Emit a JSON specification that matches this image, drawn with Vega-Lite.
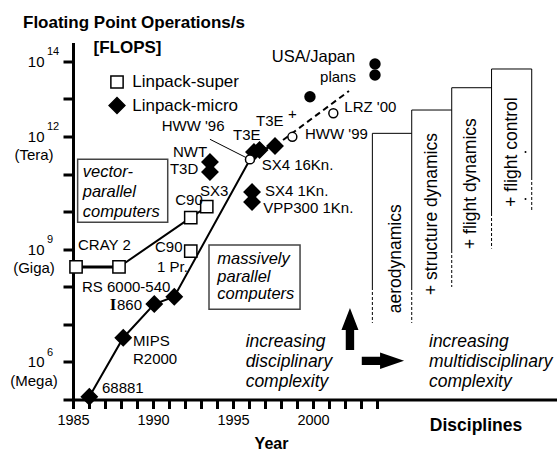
{
  "$schema": "https://vega.github.io/schema/vega-lite/v6.json",
  "width": 484,
  "height": 357,
  "autosize": "none",
  "padding": {"left": 73, "top": 42.5, "right": 0, "bottom": 50.5},
  "background": "white",
  "title": {"text": "Floating Point Operations/s", "anchor": "start", "frame": "group", "dx": -50, "offset": 6, "fontSize": 17, "fontWeight": "bold", "font": "Liberation Sans", "color": "black"},
  "config": {"view": {"stroke": null}, "font": "Liberation Sans", "text": {"color": "black", "font": "Liberation Sans"}},
  "datasets": {
    "systems": [
      {"name": "CRAY 2", "kind": "Linpack-super", "year": 1985.19, "flops": 3.36e8, "track": "super", "step": 1},
      {"name": "1988 vector", "kind": "Linpack-super", "year": 1987.875, "flops": 3.36e8, "track": "super", "step": 2},
      {"name": "C90", "kind": "Linpack-super", "year": 1992.36, "flops": 6.89e9, "track": "super", "step": 3},
      {"name": "SX3", "kind": "Linpack-super", "year": 1993.36, "flops": 1.35e10, "track": "super", "step": 4},
      {"name": "C90 1 Pr.", "kind": "Linpack-super", "year": 1992.36, "flops": 8.91e8},
      {"name": "68881", "kind": "Linpack-micro", "year": 1986.02, "flops": 1.19e5, "track": "micro", "step": 1},
      {"name": "MIPS R2000", "kind": "Linpack-micro", "year": 1988.14, "flops": 4.41e6, "track": "micro", "step": 2},
      {"name": "i860", "kind": "Linpack-micro", "year": 1990.08, "flops": 3.48e7, "track": "micro", "step": 3},
      {"name": "RS 6000-540", "kind": "Linpack-micro", "year": 1991.33, "flops": 5.45e7, "track": "micro", "step": 4},
      {"name": "HWW '96", "kind": "installed", "year": 1996.06, "flops": 2.45e11, "track": "micro", "step": 5},
      {"name": "T3E", "kind": "Linpack-micro", "year": 1996.31, "flops": 3.86e11, "track": "micro", "step": 6},
      {"name": "T3E", "kind": "Linpack-micro", "year": 1996.66, "flops": 4.37e11, "track": "micro", "step": 7},
      {"name": "T3E", "kind": "Linpack-micro", "year": 1997.625, "flops": 5.57e11, "track": "micro", "step": 8},
      {"name": "NWT", "kind": "Linpack-micro", "year": 1993.56, "flops": 2.09e11},
      {"name": "T3D", "kind": "Linpack-micro", "year": 1993.56, "flops": 1.13e11},
      {"name": "SX4 1Kn.", "kind": "Linpack-micro", "year": 1996.19, "flops": 3.31e10},
      {"name": "VPP300 1Kn.", "kind": "Linpack-micro", "year": 1996.19, "flops": 1.8e10},
      {"name": "HWW '99", "kind": "installed", "year": 1998.71, "flops": 9.77e11},
      {"name": "LRZ '00", "kind": "installed", "year": 2001.27, "flops": 4.13e12},
      {"name": "planned 1999", "kind": "planned", "year": 1999.81, "flops": 1.14e13},
      {"name": "USA/Japan plans", "kind": "planned", "year": 2003.875, "flops": 8.51e13},
      {"name": "USA/Japan plans", "kind": "planned", "year": 2003.875, "flops": 4.32e13}
    ]
  },
  "encoding": {
    "x": {"field": "year", "type": "quantitative",
      "scale": {"domain": [1985, 2015.25], "nice": false, "zero": false},
      "axis": {"values": [1985, 1986, 1987, 1988, 1989, 1990, 1991, 1992, 1993, 1994, 1995, 1996, 1997, 1998, 1999, 2000, 2001, 2002, 2003, 2004],
        "labelExpr": "datum.value % 5 === 0 ? '' + datum.value : ''", "labelOverlap": false, "labelFlush": false,
        "grid": false, "tickSize": 9, "tickWidth": 3, "tickColor": "black", "domainColor": "black", "domainWidth": 3,
        "labelFontSize": 14.5, "labelColor": "black", "labelPadding": 5, "labelFont": "Liberation Sans",
        "title": "Year", "titleFontSize": 16, "titleFontWeight": "bold", "titleColor": "black", "titleFont": "Liberation Sans",
        "titleX": 198, "titleY": 43.5, "titleBaseline": "middle", "titleAlign": "center"}},
    "y": {"field": "flops", "type": "quantitative",
      "scale": {"type": "log", "domain": [1e5, 3.1623e14], "nice": false},
      "axis": {"values": [1e5, 1e6, 1e7, 1e8, 1e9, 1e10, 1e11, 1e12, 1e13, 1e14],
        "labelExpr": "indexof([6, 9, 12, 14], round(log(datum.value) / LN10)) >= 0 ? '10' : ''", "labelOverlap": false, "labelFlush": false,
        "grid": false, "tickSize": 10, "tickWidth": 3, "tickColor": "black", "domainColor": "black", "domainWidth": 3,
        "labelFontSize": 15, "labelColor": "black", "labelPadding": 19, "labelFont": "Liberation Sans",
        "title": "[FLOPS]", "titleAngle": 0, "titleX": 20, "titleY": 4.5, "titleAlign": "left", "titleBaseline": "middle",
        "titleFontSize": 17, "titleFontWeight": "bold", "titleColor": "black", "titleFont": "Liberation Sans"}}
  },
  "layer": [
    {
      "data": {"values": [
        {"regime": "vector-parallel computers", "year": 1985.29, "year2": 1990.92, "flops": 2.47e11, "flops2": 5.19e9},
        {"regime": "massively parallel computers", "year": 1993.5, "year2": 1999.19, "flops": 1.29e9, "flops2": 2.51e7}
      ]},
      "mark": {"type": "rect", "fill": "white", "stroke": "#444444", "strokeWidth": 1.5},
      "encoding": {"x2": {"field": "year2"}, "y2": {"field": "flops2"}}
    },
    {
      "data": {"values": [
        {"year": 2003.71, "year2": 2006.17, "flops": 1.21e12, "flops2": 1.21e12},
        {"year": 2006.17, "year2": 2008.67, "flops": 5.05e12, "flops2": 5.05e12},
        {"year": 2008.67, "year2": 2011.16, "flops": 1.98e13, "flops2": 1.98e13},
        {"year": 2011.16, "year2": 2013.67, "flops": 6.24e13, "flops2": 6.24e13},
        {"year": 2003.71, "year2": 2003.71, "flops": 1.21e12, "flops2": 9.86e7},
        {"year": 2006.17, "year2": 2006.17, "flops": 5.05e12, "flops2": 9.86e7},
        {"year": 2008.67, "year2": 2008.67, "flops": 1.98e13, "flops2": 9.51e8},
        {"year": 2011.16, "year2": 2011.16, "flops": 6.24e13, "flops2": 9.18e9},
        {"year": 2013.67, "year2": 2013.67, "flops": 6.24e13, "flops2": 8.34e10}
      ]},
      "mark": {"type": "rule", "color": "black", "strokeWidth": 1},
      "encoding": {"x2": {"field": "year2"}, "y2": {"field": "flops2"}}
    },
    {
      "data": {"values": [
        {"year": 2003.71, "year2": 2003.71, "flops": 9.86e7, "flops2": 1.09e7},
        {"year": 2006.17, "year2": 2006.17, "flops": 9.86e7, "flops2": 1.09e7},
        {"year": 2008.67, "year2": 2008.67, "flops": 9.51e8, "flops2": 9.86e7},
        {"year": 2011.16, "year2": 2011.16, "flops": 9.18e9, "flops2": 1.04e9},
        {"year": 2013.67, "year2": 2013.67, "flops": 8.34e10, "flops2": 1.1e10}
      ]},
      "mark": {"type": "rule", "color": "black", "strokeWidth": 1, "strokeDash": [3, 2]},
      "encoding": {"x2": {"field": "year2"}, "y2": {"field": "flops2"}}
    },
    {
      "data": {"values": [{"year": 1993.56, "year2": 1995.81, "flops": 8.4e11, "flops2": 2.75e11}]},
      "mark": {"type": "rule", "color": "black", "strokeWidth": 1},
      "encoding": {"x2": {"field": "year2"}, "y2": {"field": "flops2"}}
    },
    {
      "data": {"name": "systems"},
      "transform": [{"filter": "datum.track === 'super'"}],
      "mark": {"type": "line", "color": "black", "strokeWidth": 2},
      "encoding": {"order": {"field": "step", "type": "quantitative"}}
    },
    {
      "data": {"values": [{"year": 1985.19, "year2": 1987.875, "flops": 3.36e8, "flops2": 3.36e8}]},
      "mark": {"type": "rule", "color": "black", "strokeWidth": 3},
      "encoding": {"x2": {"field": "year2"}, "y2": {"field": "flops2"}}
    },
    {
      "data": {"name": "systems"},
      "transform": [{"filter": "datum.track === 'micro'"}],
      "mark": {"type": "line", "color": "black", "strokeWidth": 2},
      "encoding": {"order": {"field": "step", "type": "quantitative"}}
    },
    {
      "data": {"values": [{"year": 1997.625, "flops": 5.57e11}, {"year": 2002.25, "flops": 1.62e13}]},
      "mark": {"type": "line", "color": "black", "strokeWidth": 2, "strokeDash": [6, 4]},
      "encoding": {}
    },
    {
      "data": {"name": "systems"},
      "transform": [{"filter": {"field": "kind", "oneOf": ["Linpack-super", "Linpack-micro"]}}],
      "mark": {"type": "point", "filled": true, "opacity": 1, "strokeWidth": 1.5},
      "encoding": {
        "shape": {"field": "kind", "type": "nominal", "scale": {"domain": ["Linpack-super", "Linpack-micro"], "range": ["square", "diamond"]},
          "legend": {"title": null, "orient": "none", "legendX": 35, "legendY": 31, "padding": 0, "labelFontSize": 17, "labelFont": "Liberation Sans", "labelColor": "black", "labelOffset": 6.2, "rowPadding": 3, "symbolStrokeWidth": 1.5}},
        "fill": {"field": "kind", "type": "nominal", "scale": {"domain": ["Linpack-super", "Linpack-micro"], "range": ["white", "black"]},
          "legend": {"title": null, "orient": "none", "legendX": 35, "legendY": 31, "padding": 0, "labelFontSize": 17, "labelFont": "Liberation Sans", "labelColor": "black", "labelOffset": 6.2, "rowPadding": 3, "symbolStrokeWidth": 1.5}},
        "stroke": {"field": "kind", "type": "nominal", "scale": {"domain": ["Linpack-super", "Linpack-micro"], "range": ["black", "black"]},
          "legend": {"title": null, "orient": "none", "legendX": 35, "legendY": 31, "padding": 0, "labelFontSize": 17, "labelFont": "Liberation Sans", "labelColor": "black", "labelOffset": 6.2, "rowPadding": 3, "symbolStrokeWidth": 1.5}},
        "size": {"field": "kind", "type": "nominal", "scale": {"type": "ordinal", "domain": ["Linpack-super", "Linpack-micro"], "range": [150, 250]},
          "legend": {"title": null, "orient": "none", "legendX": 35, "legendY": 31, "padding": 0, "labelFontSize": 17, "labelFont": "Liberation Sans", "labelColor": "black", "labelOffset": 6.2, "rowPadding": 3, "symbolStrokeWidth": 1.5}}
      }
    },
    {
      "data": {"name": "systems"},
      "transform": [{"filter": "datum.kind === 'installed'"}],
      "mark": {"type": "point", "shape": "circle", "filled": true, "fill": "white", "stroke": "black", "strokeWidth": 1.5, "size": 80, "opacity": 1}
    },
    {
      "data": {"name": "systems"},
      "transform": [{"filter": "datum.kind === 'planned'"}],
      "mark": {"type": "point", "shape": "circle", "filled": true, "fill": "black", "strokeWidth": 0, "size": 130, "opacity": 1}
    },
    {
      "data": {"values": [{"year": 2013.28, "flops": 3.86e11}, {"year": 2013.28, "flops": 2.16e10}]},
      "mark": {"type": "point", "shape": "circle", "filled": true, "fill": "black", "strokeWidth": 0, "size": 4, "opacity": 1}
    },
    {
      "data": {"values": [{"arrow": "increasing disciplinary complexity", "year": 2002.31, "flops": 7.52e6}]},
      "mark": {"type": "point", "shape": "M0,-1L0.405,0.05L0.2,0.05L0.2,1L-0.2,1L-0.2,0.05L-0.405,0.05Z", "filled": true, "fill": "black", "strokeWidth": 0, "size": 1764, "opacity": 1}
    },
    {
      "data": {"values": [{"arrow": "increasing multidisciplinary complexity", "year": 2004.37, "flops": 1.07e6}]},
      "mark": {"type": "point", "shape": "M1,0L-0.135,-0.39L-0.135,-0.196L-1,-0.196L-1,0.196L-0.135,0.196L-0.135,0.39Z", "filled": true, "fill": "black", "strokeWidth": 0, "size": 1789, "opacity": 1}
    },
    {
      "data": {"values": [
        {"text": "CRAY 2", "year": 1985.31, "flops": 1.29e9},
        {"text": "RS 6000-540", "year": 1985.56, "flops": 1.0e8},
        {"text": "68881", "year": 1986.81, "flops": 2.02e5},
        {"text": "MIPS", "year": 1988.75, "flops": 3.61e6},
        {"text": "R2000", "year": 1988.75, "flops": 1.22e6},
        {"text": "860", "year": 1987.75, "flops": 3.27e7},
        {"text": "C90", "year": 1991.39, "flops": 2.04e10},
        {"text": "SX3", "year": 1992.94, "flops": 3.53e10},
        {"text": "C90", "year": 1990.125, "flops": 1.14e9},
        {"text": "1 Pr.", "year": 1990.25, "flops": 3.46e8},
        {"text": "NWT", "year": 1991.25, "flops": 3.86e11},
        {"text": "T3D", "year": 1991.06, "flops": 1.34e11},
        {"text": "HWW '96", "year": 1990.54, "flops": 1.9e12},
        {"text": "T3E", "year": 1995.0, "flops": 1.09e12},
        {"text": "T3E", "year": 1996.44, "flops": 2.58e12},
        {"text": "SX4 16Kn.", "year": 1996.79, "flops": 1.69e11},
        {"text": "SX4 1Kn.", "year": 1997.0, "flops": 3.55e10},
        {"text": "VPP300 1Kn.", "year": 1996.89, "flops": 1.27e10},
        {"text": "HWW '99", "year": 1999.5, "flops": 1.14e12},
        {"text": "LRZ '00", "year": 2001.96, "flops": 6.17e12},
        {"text": "+", "year": 1998.44, "flops": 3.95e12},
        {"text": "plans", "year": 2000.44, "flops": 3.89e13}
      ]},
      "mark": {"type": "text", "align": "left", "baseline": "middle", "fontSize": 15, "font": "Liberation Sans", "color": "black"},
      "encoding": {"text": {"field": "text"}}
    },
    {
      "data": {"values": [{"text": "USA/Japan", "year": 1997.42, "flops": 1.28e14}]},
      "mark": {"type": "text", "align": "left", "baseline": "middle", "fontSize": 16.5, "font": "Liberation Sans", "color": "black"},
      "encoding": {"text": {"field": "text"}}
    },
    {
      "data": {"values": [{"text": "I", "year": 1987.5, "flops": 3.27e7}]},
      "mark": {"type": "text", "align": "center", "baseline": "middle", "fontSize": 17, "font": "Liberation Serif", "fontWeight": "bold", "color": "black"},
      "encoding": {"text": {"field": "text"}}
    },
    {
      "data": {"values": [{"text": "vector-\nparallel\ncomputers", "year": 1985.61, "flops": 1.15e11}]},
      "mark": {"type": "text", "align": "left", "baseline": "middle", "fontSize": 16.5, "fontStyle": "italic", "lineHeight": 20, "lineBreak": "\n", "font": "Liberation Sans", "color": "black"},
      "encoding": {"text": {"field": "text"}}
    },
    {
      "data": {"values": [{"text": "massively\nparallel\ncomputers", "year": 1994.02, "flops": 5.38e8}]},
      "mark": {"type": "text", "align": "left", "baseline": "middle", "fontSize": 16.5, "fontStyle": "italic", "lineHeight": 17.5, "lineBreak": "\n", "font": "Liberation Sans", "color": "black"},
      "encoding": {"text": {"field": "text"}}
    },
    {
      "data": {"values": [
        {"text": "increasing\ndisciplinary\ncomplexity", "year": 1995.79, "flops": 3.45e6},
        {"text": "increasing\nmultidisciplinary\ncomplexity", "year": 2007.25, "flops": 3.45e6}
      ]},
      "mark": {"type": "text", "align": "left", "baseline": "middle", "fontSize": 17.5, "fontStyle": "italic", "lineHeight": 20, "lineBreak": "\n", "font": "Liberation Sans", "color": "black"},
      "encoding": {"text": {"field": "text"}}
    },
    {
      "data": {"values": [
        {"text": "aerodynamics", "year": 2005.17, "flops": 1.97e7},
        {"text": "+ structure dynamics", "year": 2007.42, "flops": 6.03e7},
        {"text": "+ flight dynamics", "year": 2009.875, "flops": 1.01e9},
        {"text": "+ flight control", "year": 2012.46, "flops": 1.35e10}
      ]},
      "mark": {"type": "text", "align": "left", "baseline": "middle", "angle": 270, "fontSize": 17.5, "font": "Liberation Sans", "color": "black"},
      "encoding": {"text": {"field": "text"}}
    },
    {
      "data": {"values": [
        {"exp": "14", "year": 1985, "flops": 1e14},
        {"exp": "12", "year": 1985, "flops": 1e12},
        {"exp": "9", "year": 1985, "flops": 1e9},
        {"exp": "6", "year": 1985, "flops": 1e6}
      ]},
      "mark": {"type": "text", "align": "left", "baseline": "middle", "dx": -26, "dy": -9, "fontSize": 11, "font": "Liberation Sans", "color": "black"},
      "encoding": {"text": {"field": "exp"}}
    },
    {
      "data": {"values": [
        {"unit": "(Tera)", "year": 1985, "flops": 1e12},
        {"unit": "(Giga)", "year": 1985, "flops": 1e9},
        {"unit": "(Mega)", "year": 1985, "flops": 1e6}
      ]},
      "mark": {"type": "text", "align": "center", "baseline": "middle", "dx": -39, "dy": 19, "fontSize": 15, "font": "Liberation Sans", "color": "black"},
      "encoding": {"text": {"field": "unit"}}
    },
    {
      "data": {"values": [{"text": "Disciplines", "year": 2010.19, "flops": 1.97e4}]},
      "mark": {"type": "text", "align": "center", "baseline": "middle", "fontSize": 17.5, "fontWeight": "bold", "font": "Liberation Sans", "color": "black"},
      "encoding": {"text": {"field": "text"}}
    }
  ]
}
